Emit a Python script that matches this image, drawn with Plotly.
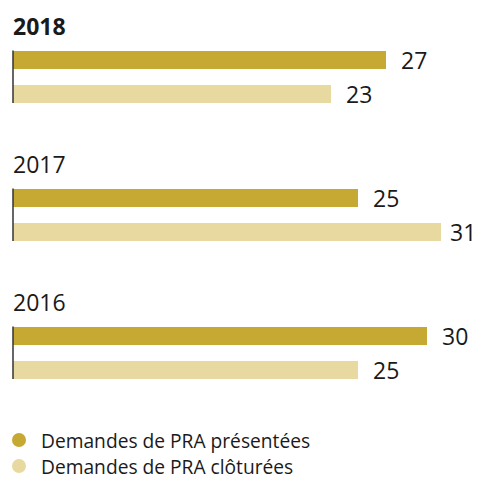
import plotly.graph_objects as go

years = ["2018", "2017", "2016"]
presentees = [27, 25, 30]
cloturees = [23, 31, 25]
series_names = ["Demandes de PRA présentées", "Demandes de PRA clôturées"]
colors = ["#C5A933", "#E8D9A0"]

W, H = 478, 479
px_per_unit = 13.81
x0_px = 13
group_step = 138
first_center = 59.5
pair_gap = 34.5
bar_h = 18
lab_size = 23

dark_y = [first_center + i * group_step for i in range(len(years))]
light_y = [y + pair_gap for y in dark_y]
title_y = [y - 34 for y in dark_y]

fig = go.Figure()
fig.add_trace(go.Bar(x=presentees, y=dark_y, orientation="h", width=bar_h, name=series_names[0],
                     marker=dict(color=colors[0], line=dict(width=0)), showlegend=False, hoverinfo="skip"))
fig.add_trace(go.Bar(x=cloturees, y=light_y, orientation="h", width=bar_h, name=series_names[1],
                     marker=dict(color=colors[1], line=dict(width=0)), showlegend=False, hoverinfo="skip"))

font = "Open Sans, Noto Sans, sans-serif"
ann = []
for i, yr in enumerate(years):
    ann.append(dict(x=0, y=title_y[i], xref="x", yref="y", text=f"<b>{yr}</b>" if i == 0 else yr,
                    showarrow=False, xanchor="left", yanchor="middle", xshift=-2,
                    font=dict(size=23, color="#1a1a1a", family=font)))
    for v, yy in ((presentees[i], dark_y[i]), (cloturees[i], light_y[i])):
        bar_end = x0_px + v * px_per_unit
        est_w = len(str(v)) * 0.572 * lab_size + 2
        shift = min(13, W - 2 - bar_end - est_w)
        ann.append(dict(x=v, y=yy, xref="x", yref="y", text=str(v), showarrow=False,
                        xanchor="left", yanchor="middle", xshift=shift,
                        font=dict(size=lab_size, color="#1a1a1a", family=font)))

shapes = []
for i in range(len(years)):
    shapes.append(dict(type="line", xref="x", yref="y", x0=0, x1=0,
                       y0=dark_y[i] - bar_h / 2, y1=light_y[i] + bar_h / 2,
                       line=dict(color="#333333", width=1.5), layer="above"))

# legend (drawn manually for exact placement)
leg_y = [440, 466]
r = 7
for name, c, ly in zip(series_names, colors, leg_y):
    shapes.append(dict(type="circle", xref="paper", yref="paper",
                       x0=(19 - r) / W, x1=(19 + r) / W,
                       y0=1 - (ly + r) / H, y1=1 - (ly - r) / H,
                       fillcolor=c, line=dict(width=0)))
    ann.append(dict(x=40 / W, y=1 - ly / H, xref="paper", yref="paper", text=name,
                    showarrow=False, xanchor="left", yanchor="middle", borderpad=0,
                    font=dict(size=19.2, color="#1a1a1a", family=font)))

fig.update_layout(
    width=W, height=H, margin=dict(l=0, r=0, t=0, b=0),
    paper_bgcolor="white", plot_bgcolor="white",
    xaxis=dict(range=[-x0_px / px_per_unit, (W - x0_px) / px_per_unit], visible=False, fixedrange=True),
    yaxis=dict(range=[H, 0], visible=False, fixedrange=True),
    bargap=0, barmode="overlay",
    annotations=ann, shapes=shapes,
    showlegend=False,
)

fig.write_html("out.html")
